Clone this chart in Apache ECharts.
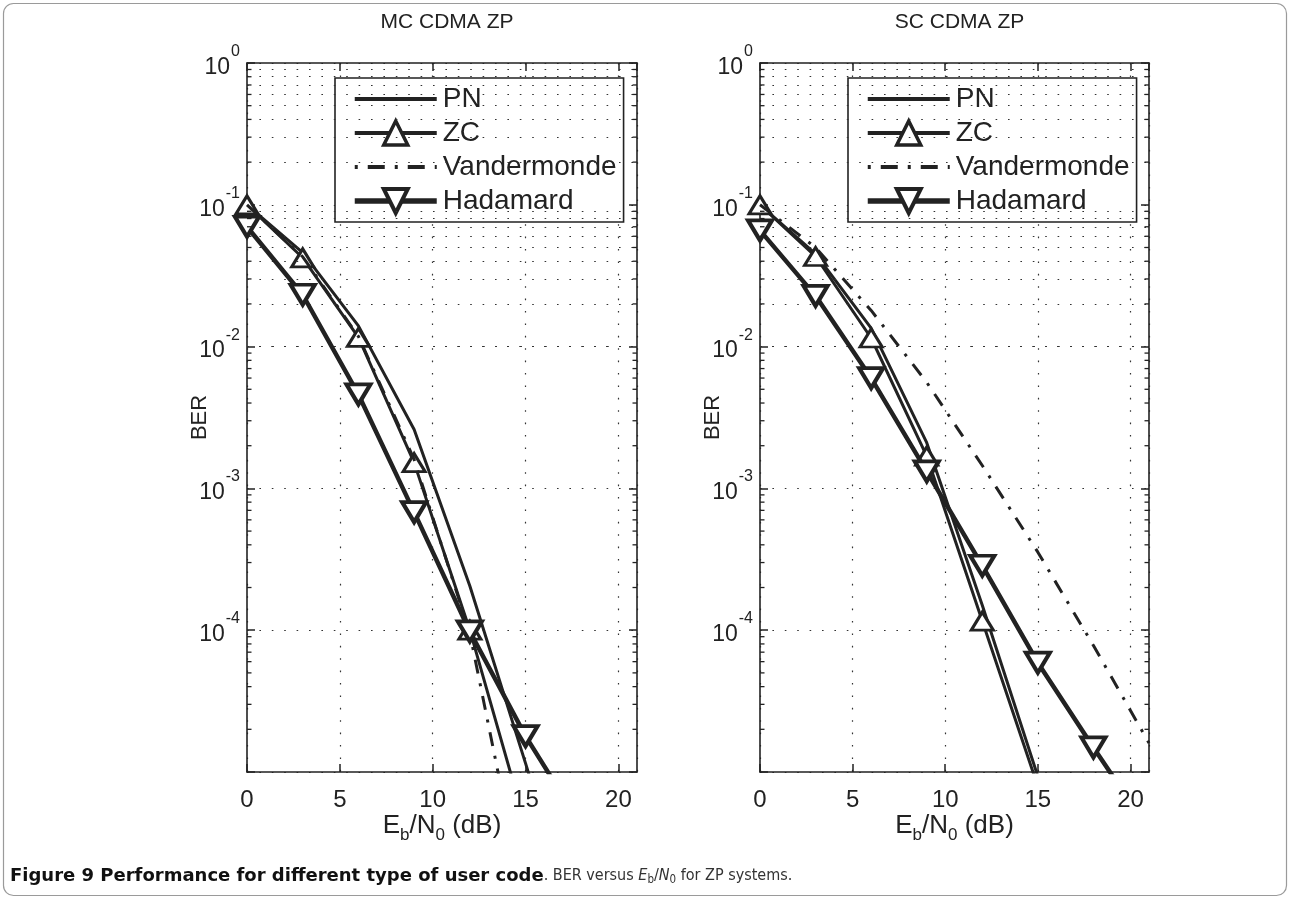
<!DOCTYPE html>
<html>
<head>
<meta charset="utf-8">
<script src="https://cdn.jsdelivr.net/npm/echarts@6/dist/echarts.min.js"></script>
<style>
html,body{margin:0;padding:0;background:#fff;}
#c{width:1291px;height:901px;}
</style>
</head>
<body>
<div id="c"></div>
<script>
// ---- data ----
const EBN0 = [0, 3, 6, 9, 12, 15, 18, 21];
const SERIES_NAMES = ['PN', 'ZC', 'Vandermonde', 'Hadamard'];
const PANEL_TITLES = ['MC CDMA ZP', 'SC CDMA ZP'];
const Y_DECADES = [-5, -4, -3, -2, -1, 0];

// MC CDMA ZP
const MC_PN   = [0.100, 0.046, 0.0140, 2.6e-3, 2.05e-4, 1.15e-5, 6e-7, null];
const MC_ZC   = [0.100, 0.0423, 0.0116, 1.52e-3, 1.0e-4, 4.2e-6, null, null];
const MC_VAN  = [0.100, 0.043, 0.0118, 1.6e-3, 9.5e-5, 1.1e-6, null, null];
const MC_HAD  = [0.070, 0.0232, 4.6e-3, 6.8e-4, 9.8e-5, 1.79e-5, 4.2e-6, null];

// SC CDMA ZP
const SC_PN   = [0.100, 0.045, 0.0135, 2.1e-3, 1.5e-4, 9.3e-6, null, null];
const SC_ZC   = [0.100, 0.0432, 0.0115, 1.69e-3, 1.16e-4, 7.9e-6, null, null];
const SC_VAN  = [0.100, 0.050, 0.018, 5.6e-3, 1.45e-3, 3.55e-4, 7.8e-5, 1.6e-5];
const SC_HAD  = [0.066, 0.0228, 6.0e-3, 1.32e-3, 2.85e-4, 5.9e-5, 1.49e-5, 3.9e-6];

// ---- build ----
const FONT = "'Liberation Sans', Arial, Helvetica, sans-serif";
const CAPFONT = "'Liberation Sans Narrow', 'DejaVu Sans Condensed', 'Liberation Sans', sans-serif";
const INK = '#222';
const chart = echarts.init(document.getElementById('c'), null, {renderer: 'canvas'});

function pairs(ys) {
  const out = [];
  EBN0.forEach((x, i) => { if (ys[i] !== null) out.push([x, ys[i]]); });
  return out;
}

const GRIDS = [
  {left: 247, top: 63, width: 390, height: 709},
  {left: 760, top: 63, width: 389, height: 709}
];

const xMin = 0, xMax = 21, yMin = 1e-5, yMax = 1;

const dotted = {type: [1.6, 10.8], color: '#333', width: 1.2};

const xAxes = [], yAxes = [];
GRIDS.forEach((g, gi) => {
  xAxes.push({
    type: 'value', gridIndex: gi, min: xMin, max: xMax, interval: 5, position: 'bottom',
    axisLine: {show: true, onZero: false, lineStyle: {color: INK, width: 1.6}},
    axisTick: {show: true, inside: true, length: 8, lineStyle: {color: INK, width: 1.5}},
    axisLabel: {show: true, margin: 16, color: INK, fontSize: 24, fontFamily: FONT, showMaxLabel: false},
    splitLine: {show: true, lineStyle: dotted},
    name: '{n|E}{sb|b}{n|/N}{sb|0}{n| (dB)}',
    nameLocation: 'middle', nameGap: 35, nameMoveOverlap: false,
    nameTextStyle: {color: INK, fontFamily: FONT, rich: {
      n: {fontSize: 26, color: INK, fontFamily: FONT},
      sb: {fontSize: 17, color: INK, fontFamily: FONT, padding: [20, 0, 0, 0]}
    }}
  });
  xAxes.push({
    type: 'value', gridIndex: gi, min: xMin, max: xMax, interval: 5, position: 'top',
    axisLine: {show: true, onZero: false, lineStyle: {color: INK, width: 1.6}},
    axisTick: {show: true, inside: true, length: 8, lineStyle: {color: INK, width: 1.5}},
    axisLabel: {show: false}, splitLine: {show: false}
  });
  yAxes.push({
    type: 'log', logBase: 10, gridIndex: gi, min: yMin, max: yMax, interval: 1, position: 'left',
    axisLine: {show: true, onZero: false, lineStyle: {color: INK, width: 1.6}},
    axisTick: {show: true, inside: true, length: 8, lineStyle: {color: INK, width: 1.5}},
    axisLabel: {
      show: true, margin: 7, color: INK, fontFamily: FONT,
      formatter: v => {
        const e = Math.round(Math.log10(v));
        if (e <= -5) return '';
        return '{b|10}{s|' + e + '}';
      },
      rich: {
        b: {fontSize: 23, color: INK, fontFamily: FONT, padding: [13, 0, 4, 0]},
        s: {fontSize: 16, color: INK, fontFamily: FONT, padding: [0, 0, 23, 1]}
      }
    },
    splitLine: {show: true, lineStyle: dotted},
    name: 'BER', nameLocation: 'middle', nameGap: 36, nameMoveOverlap: false,
    nameTextStyle: {color: INK, fontSize: 22, fontFamily: FONT}
  });
  yAxes.push({
    type: 'log', logBase: 10, gridIndex: gi, min: yMin, max: yMax, interval: 1, position: 'right',
    axisLine: {show: true, onZero: false, lineStyle: {color: INK, width: 1.6}},
    axisTick: {show: true, inside: true, length: 8, lineStyle: {color: INK, width: 1.5}},
    axisLabel: {show: false}, splitLine: {show: false}
  });
});

// minor log grid values (2..9 x decade)
const minorVals = [];
Y_DECADES.slice(0, -1).forEach(d => {
  for (let k = 2; k <= 9; k++) minorVals.push(k * Math.pow(10, d));
});

const STYLE = {
  'PN': {symbol: 'none', lineStyle: {width: 3, color: INK, type: 'solid'}},
  'ZC': {symbol: 'triangle', symbolSize: [22, 18], symbolRotate: 0,
         itemStyle: {color: '#fff', borderColor: INK, borderWidth: 3},
         lineStyle: {width: 3, color: INK, type: 'solid'}},
  'Vandermonde': {symbol: 'none', lineStyle: {width: 3, color: INK, type: [14, 10, 3, 10]}},
  'Hadamard': {symbol: 'triangle', symbolSize: [24, 20], symbolRotate: 180,
         itemStyle: {color: '#fff', borderColor: INK, borderWidth: 4},
         lineStyle: {width: 4.5, color: INK, type: 'solid'}}
};

const PANEL_DATA = [
  [MC_PN, MC_ZC, MC_VAN, MC_HAD],
  [SC_PN, SC_ZC, SC_VAN, SC_HAD]
];

const series = [];
GRIDS.forEach((g, gi) => {
  series.push({
    name: '_grid' + gi, type: 'line', xAxisIndex: gi * 2, yAxisIndex: gi * 2,
    data: [], silent: true, z: 1,
    markLine: {
      silent: true, symbol: ['none', 'none'], animation: false,
      label: {show: false},
      lineStyle: dotted,
      emphasis: {disabled: true},
      data: minorVals.map(v => ({yAxis: v}))
    }
  });
  // minor ticks on left and right frame edges
  series.push({
    name: '_mtick' + gi, type: 'custom', xAxisIndex: gi * 2, yAxisIndex: gi * 2,
    data: minorVals.map(v => [xMin, v]), silent: true, z: 10, animation: false,
    renderItem: (params, api) => {
      const v = api.value(1);
      const pL = api.coord([xMin, v]);
      const pR = api.coord([xMax, v]);
      const st = {stroke: INK, lineWidth: 1.3};
      return {type: 'group', children: [
        {type: 'line', shape: {x1: pL[0], y1: pL[1], x2: pL[0] + 4.5, y2: pL[1]}, style: st},
        {type: 'line', shape: {x1: pR[0] - 4.5, y1: pR[1], x2: pR[0], y2: pR[1]}, style: st}
      ]};
    }
  });
  SERIES_NAMES.forEach((nm, si) => {
    const st = STYLE[nm];
    const s = Object.assign({
      name: nm, type: 'line', xAxisIndex: gi * 2, yAxisIndex: gi * 2,
      data: pairs(PANEL_DATA[gi][si]), clip: true, z: 3 + si,
      showSymbol: st.symbol !== 'none', animation: false,
      emphasis: {disabled: true}, itemStyle: {color: INK}
    }, st);
    series.push(s);
  });
});

const HIDDEN_SYM = {color: 'rgba(0,0,0,0)', borderColor: 'rgba(0,0,0,0)', borderWidth: 0};
const LEGEND_ITEMS = [
  {name: 'PN', itemStyle: HIDDEN_SYM, lineStyle: {width: 4, color: INK}},
  {name: 'ZC', itemStyle: {color: '#fff', borderColor: INK, borderWidth: 3.5}, lineStyle: {width: 4, color: INK}},
  {name: 'Vandermonde', itemStyle: HIDDEN_SYM, lineStyle: {width: 4, color: INK, type: [3, 10, 17, 10]}},
  {name: 'Hadamard', itemStyle: {color: '#fff', borderColor: INK, borderWidth: 4}, lineStyle: {width: 5.5, color: INK}}
];

const legends = GRIDS.map((g, gi) => ({
  data: LEGEND_ITEMS,
  orient: 'vertical',
  left: g.left + 88, top: 78,
  padding: [7, 7, 7, 17],
  itemGap: 6,
  itemWidth: 82, itemHeight: 30,
  backgroundColor: '#fff',
  borderColor: INK, borderWidth: 1.6, borderRadius: 0,
  selectedMode: false,
  textStyle: {color: INK, fontSize: 28, lineHeight: 28, fontFamily: FONT, padding: [0, 0, 0, 1]}
}));

const option = {
  backgroundColor: '#fff',
  animation: false,
  title: PANEL_TITLES.map((t, gi) => ({
    text: t, left: GRIDS[gi].left + GRIDS[gi].width / 2, top: 7, textAlign: 'center',
    textStyle: {color: INK, fontSize: 21, fontWeight: 'normal', fontFamily: FONT}
  })),
  legend: legends,
  grid: GRIDS.map(g => Object.assign({containLabel: false}, g)),
  xAxis: xAxes,
  yAxis: yAxes,
  series: series,
  graphic: [
    {type: 'rect', shape: {x: 3.5, y: 3.5, width: 1283, height: 892, r: 10},
     style: {fill: 'none', stroke: '#9a9a9a', lineWidth: 1.2}, z: 0, silent: true},
    {type: 'text', left: 10, top: 867, silent: true,
     style: {
       text: '{b|Figure 9 Performance for different type of user code}{n|. BER versus }{i|E}{is|b}{n|/}{i|N}{is|0}{n| for ZP systems.}',
       rich: {
         b: {fontSize: 18, fontWeight: 'bold', fill: '#111', fontFamily: "'DejaVu Sans', sans-serif"},
         n: {fontSize: 16, fill: '#333', fontFamily: CAPFONT},
         i: {fontSize: 16, fontStyle: 'italic', fill: '#333', fontFamily: CAPFONT},
         is: {fontSize: 11.5, fill: '#333', fontFamily: CAPFONT, padding: [8, 0, 0, 0]}
       }
     }}
  ]
};

chart.setOption(option);
</script>
</body>
</html>
